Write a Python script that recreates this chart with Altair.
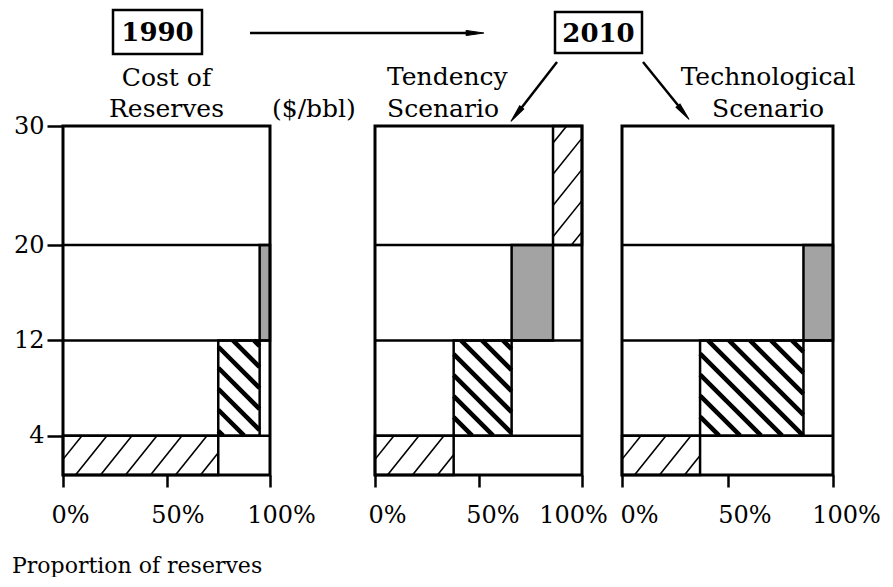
import altair as alt
import numpy as np
import pandas as pd

# ---------------- data ----------------
band_low = [0, 4, 12, 20]          # $/bbl band bottoms
band_high = [4, 12, 20, 30]        # $/bbl band tops
band_pattern = ["light", "dense", "stipple", "light"]
band_lines = [4, 12, 20]
y_tick_values = [30, 20, 12, 4]
x_tick_values = [0, 50, 100]
x_tick_labels = ["0%", "50%", "100%"]

# share of reserves (%) falling in each cost band
share_1990 = [75, 20, 5, 0]
share_tendency = [38, 28, 20, 14]
share_technological = [37, 49, 14, 0]

year_labels = ["1990", "2010"]
title_1990 = ["Cost of", "Reserves"]
title_tendency = ["Tendency", "Scenario"]
title_technological = ["Technological", "Scenario"]
unit_label = "($/bbl)"
x_title = "Proportion of reserves"

# ---------------- layout / style ----------------
FONT = "DejaVu Serif"
H = 349
Y_MIN, Y_MAX = 0.7, 30
HATCH = {"light": (1.25, 25.0, 1, 1.6), "dense": (1.0, 21.0, -1, 4.5)}  # slope, spacing, dir, width

label_expr = " : ".join(
    [f"datum.value == {v} ? '{l}'" for v, l in zip(x_tick_values[:-1], x_tick_labels[:-1])]
    + [f"'{x_tick_labels[-1]}'"]
)


def bars_df(shares):
    rows, cum = [], 0
    for lo, hi, pat, s in zip(band_low, band_high, band_pattern, shares):
        if s > 0:
            rows.append(dict(x0=cum, x1=cum + s, y0=lo, y1=hi, kind=pat))
        cum += s
    return pd.DataFrame(rows)


def hatch_df(bars, W):
    rows = []
    to_pu = lambda v: (min(max(v, Y_MIN), Y_MAX) - Y_MIN) / (Y_MAX - Y_MIN) * H
    for _, b in bars.iterrows():
        if b.kind not in HATCH:
            continue
        m, hs, d, sw = HATCH[b.kind]
        ax, bx = b.x0 / 100 * W, b.x1 / 100 * W
        au, bu = to_pu(b.y0), to_pu(b.y1)
        step = m * hs
        if d > 0:
            kmin, kmax = au - m * bx, bu - m * ax
        else:
            kmin, kmax = au + m * ax, bu + m * bx
        for n in range(int(np.floor(kmin / step)) - 1, int(np.ceil(kmax / step)) + 1):
            k = n * step + 0.5 * step
            if d > 0:
                p0, p1 = max(ax, (au - k) / m), min(bx, (bu - k) / m)
                u0, u1 = m * p0 + k, m * p1 + k
            else:
                p0, p1 = max(ax, (k - bu) / m), min(bx, (k - au) / m)
                u0, u1 = -m * p0 + k, -m * p1 + k
            if p1 - p0 > 1.0:
                rows.append(dict(
                    hx0=p0 / W * 100, hx1=p1 / W * 100,
                    hy0=Y_MIN + u0 / H * (Y_MAX - Y_MIN),
                    hy1=Y_MIN + u1 / H * (Y_MAX - Y_MIN),
                    sw=sw))
    return pd.DataFrame(rows, columns=["hx0", "hx1", "hy0", "hy1", "sw"])


one = pd.DataFrame({"k": [0]})


def txt(s, x, y, size=25, align="left", weight="normal"):
    return alt.Chart(one).mark_text(
        text=s, font=FONT, fontSize=size, align=align, baseline="alphabetic",
        fontWeight=weight, color="black"
    ).encode(x=alt.value(x), y=alt.value(y))


def box(x0, x1, y0, y1):
    return alt.Chart(one).mark_rect(fillOpacity=0, stroke="black", strokeWidth=2.5).encode(
        x=alt.value(x0), x2=alt.value(x1), y=alt.value(y0), y2=alt.value(y1))


def seg(x0, y0, x1, y1, w=2.5):
    return alt.Chart(one).mark_rule(color="black", strokeWidth=w).encode(
        x=alt.value(x0), x2=alt.value(x1), y=alt.value(y0), y2=alt.value(y1))


def head(x, y, angle):
    return alt.Chart(one).mark_point(
        shape="wedge", filled=True, color="black", opacity=1, size=420, angle=angle,
        stroke="black", strokeWidth=1
    ).encode(x=alt.value(x), y=alt.value(y))


def panel(shares, W, slot, show_y, label_offset, extras):
    bars = bars_df(shares)
    hatch = hatch_df(bars, W)
    xs = alt.Scale(domain=[0, 100], range=[0, W], nice=False, zero=False)
    ys = alt.Scale(domain=[Y_MIN, Y_MAX], clamp=True, nice=False, zero=False)

    x_axis = alt.Axis(
        values=x_tick_values, labelExpr=label_expr, domain=False, ticks=True,
        tickSize=12, tickWidth=2.5, tickColor="black", labelFont=FONT,
        labelFontSize=24, labelColor="black", labelPadding=16,
        labelOffset=label_offset, labelFlush=False, labelOverlap=False,
        grid=False, title=None)
    if show_y:
        y_axis = alt.Axis(
            values=y_tick_values, domain=False, ticks=True, tickSize=16,
            tickWidth=2.5, tickColor="black", labelFont=FONT, labelFontSize=24,
            labelColor="black", labelPadding=3, labelFlush=False,
            labelOverlap=False, grid=False, title=None)
    else:
        y_axis = None

    def X(f):
        return alt.X(f, scale=xs, axis=x_axis)

    def Y(f):
        return alt.Y(f, scale=ys, axis=y_axis)

    fill = alt.Chart(bars).mark_rect(strokeWidth=0).encode(
        x=X("x0:Q"), x2="x1", y=Y("y0:Q"), y2="y1",
        fill=alt.Fill("kind:N", scale=alt.Scale(
            domain=["light", "dense", "stipple"],
            range=["#ffffff", "#ffffff", "#a3a3a3"]), legend=None))
    hatch_l = alt.Chart(hatch).mark_rule(color="black", strokeCap="butt").encode(
        x=X("hx0:Q"), x2="hx1", y=Y("hy0:Q"), y2="hy1",
        strokeWidth=alt.StrokeWidth("sw:Q", scale=None))
    outline = alt.Chart(bars).mark_rect(fillOpacity=0, stroke="black", strokeWidth=2.5).encode(
        x=X("x0:Q"), x2="x1", y=Y("y0:Q"), y2="y1")
    bands = alt.Chart(pd.DataFrame({"y": band_lines, "x0": 0, "x1": 100})).mark_rule(
        color="black", strokeWidth=2.5).encode(
        x=X("x0:Q"), x2="x1", y=Y("y:Q"))
    frame = alt.Chart(pd.DataFrame({"x0": [0], "x1": [100],
                                    "y0": [min(band_low)], "y1": [max(band_high)]})).mark_rect(
        fillOpacity=0, stroke="black", strokeWidth=3).encode(
        x=X("x0:Q"), x2="x1", y=Y("y0:Q"), y2="y1")

    return alt.layer(fill, hatch_l, outline, bands, frame, *extras).properties(
        width=slot, height=H)


# annotations, pixel positions relative to each panel's plot area
extras1 = [
    box(50, 139, -116, -72), txt(year_labels[0], 94.5, -85, 26, "center", "bold"),
    seg(187, -93, 403, -93), head(409, -93, 90),
    txt(title_1990[0], 103.5, -40, 25, "center"),
    txt(title_1990[1], 103.5, -9, 25, "center"),
    txt(x_title, -51, 447, 22, "left"),
]
extras2 = [
    txt(unit_label, -103, -9, 25, "left"),
    box(180, 267, -114, -73), txt(year_labels[1], 223.5, -84, 26, "center", "bold"),
    seg(182, -64, 144, -15), head(143.1, -13.9, 217.8),
    seg(268, -64, 306, -17), head(306.7, -15.8, 141.2),
    txt(title_tendency[0], 12, -41, 25, "left"),
    txt(title_tendency[1], 12, -9, 25, "left"),
]
extras3 = [
    txt(title_technological[0], 146, -41, 25, "center"),
    txt(title_technological[1], 146, -9, 25, "center"),
]

p1 = panel(share_1990, 207, 272, True,
           {"condition": {"test": "datum.value === 0", "value": 7}, "value": 11}, extras1)
p2 = panel(share_tendency, 207, 207, False,
           {"condition": [{"test": "datum.value === 0", "value": 12},
                          {"test": "datum.value === 100", "value": -9}], "value": 14}, extras2)
p3 = panel(share_technological, 211, 211, False,
           {"condition": {"test": "datum.value === 100", "value": 13}, "value": 17}, extras3)

chart = alt.hconcat(p1, p2, p3, spacing=40, bounds="flush").properties(
    padding={"left": 4, "top": 0, "right": 0, "bottom": 0}, background="white"
).configure_view(strokeWidth=0)

chart.save("out.html", embed_options={"renderer": "svg", "actions": False})
